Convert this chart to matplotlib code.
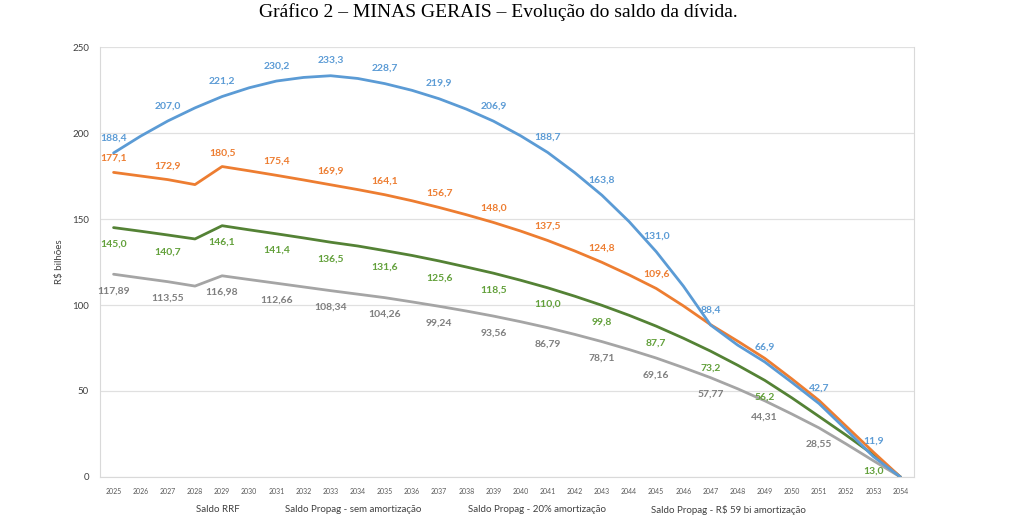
import numpy as np
import matplotlib.pyplot as plt

anos = list(range(2025, 2055))

# saldo anual (R$ bilhões)
saldo_azul = [188.4, 198.2, 207.0, 214.6, 221.2, 226.3, 230.2, 232.3, 233.3, 231.7,
              228.7, 224.8, 219.9, 213.9, 206.9, 198.4, 188.7, 176.9, 163.8, 148.5,
              131.0, 111.0, 88.4, 76.7, 66.9, 55.0, 42.7, 27.5, 11.9, 0.0]
saldo_laranja = [177.1, 175.0, 172.9, 170.0, 180.5, 178.0, 175.4, 172.7, 169.9, 167.1,
                 164.1, 160.6, 156.7, 152.5, 148.0, 143.0, 137.5, 131.4, 124.8, 117.5,
                 109.6, 99.5, 88.6, 79.0, 69.0, 57.0, 44.5, 29.5, 14.5, 0.0]
saldo_verde = [145.0, 142.9, 140.7, 138.4, 146.1, 143.7, 141.4, 139.0, 136.5, 134.3,
               131.6, 128.8, 125.6, 122.1, 118.5, 114.4, 110.0, 105.1, 99.8, 94.0,
               87.7, 80.7, 73.2, 65.0, 56.2, 46.0, 35.2, 24.3, 13.0, 0.0]
saldo_cinza = [117.89, 115.7, 113.55, 111.0, 116.98, 114.8, 112.66, 110.5, 108.34, 106.3,
               104.26, 101.8, 99.24, 96.5, 93.56, 90.3, 86.79, 82.9, 78.71, 74.1,
               69.16, 63.6, 57.77, 51.3, 44.31, 36.6, 28.55, 19.2, 9.5, 0.0]

# anos com rótulo visível
rot_azul = list(range(2025, 2054, 2))
rot_laranja = list(range(2025, 2046, 2))
rot_verde = list(range(2025, 2050, 2)) + [2053]
rot_cinza = list(range(2025, 2052, 2))

legenda = ['Saldo RRF', 'Saldo Propag - sem amortização',
           'Saldo Propag - 20% amortização', 'Saldo Propag - R$ 59 bi amortização']

fig = plt.figure(figsize=(10.24, 5.24), dpi=100)
ax = fig.add_axes([100/1024, 1-477/524, 814/1024, 430/524])

series = [
    (saldo_azul, '#5B9BD5', '#5B9BD5', rot_azul, 11, 1),
    (saldo_laranja, '#ED7D31', '#ED7D31', rot_laranja, 10, 1),
    (saldo_verde, '#548235', '#62A03A', rot_verde, -12, 1),
    (saldo_cinza, '#A5A5A5', '#7F7F7F', rot_cinza, -12, 2),
]

for vals, cor, cor_txt, rots, off, dec in reversed(series):
    ax.plot(anos, vals, color=cor, lw=2.0, solid_capstyle='round')

for vals, cor, cor_txt, rots, off, dec in series:
    for a, v in zip(anos, vals):
        if a in rots:
            txt = f"{v:.{dec}f}".replace('.', ',')
            ax.annotate(txt, (a, v), xytext=(0, off), textcoords='offset points',
                        ha='center', va='center', fontsize=7.5, fontweight='bold',
                        color=cor_txt, family='Lato')

ax.set_xlim(2024.5, 2054.5)
ax.set_ylim(0, 250)
ax.set_xticks(anos)
ax.set_xticklabels([str(a) for a in anos], fontsize=5, color='#595959', family='Lato')
ax.set_yticks(range(0, 251, 50))
ax.set_yticklabels([str(v) for v in range(0, 251, 50)], fontsize=7, color='#404040', family='Lato')
ax.tick_params(length=0, pad=8)
ax.tick_params(axis='y', pad=8)
ax.grid(axis='y', color='#E0E0E0', lw=0.9)
ax.set_axisbelow(True)
for s in ['top']:
    ax.spines[s].set_visible(False)
for s in ['left', 'right', 'bottom']:
    ax.spines[s].set_color('#D9D9D9')
ax.set_ylabel('R$ bilhões', fontsize=7, color='#404040', family='Lato', labelpad=6)

fig.text(498/1024, 1-12/524, 'Gráfico 2 – MINAS GERAIS – Evolução do saldo da dívida.',
         ha='center', va='center', fontsize=14, family='Liberation Serif')

pos_leg = [218, 353, 537, 728]
for x, t in zip(pos_leg, legenda):
    fig.text(x/1024, 1-510/524, t, ha='center', va='center', fontsize=7,
             color='#404040', family='Lato')

fig.savefig('out.png', dpi=100)
